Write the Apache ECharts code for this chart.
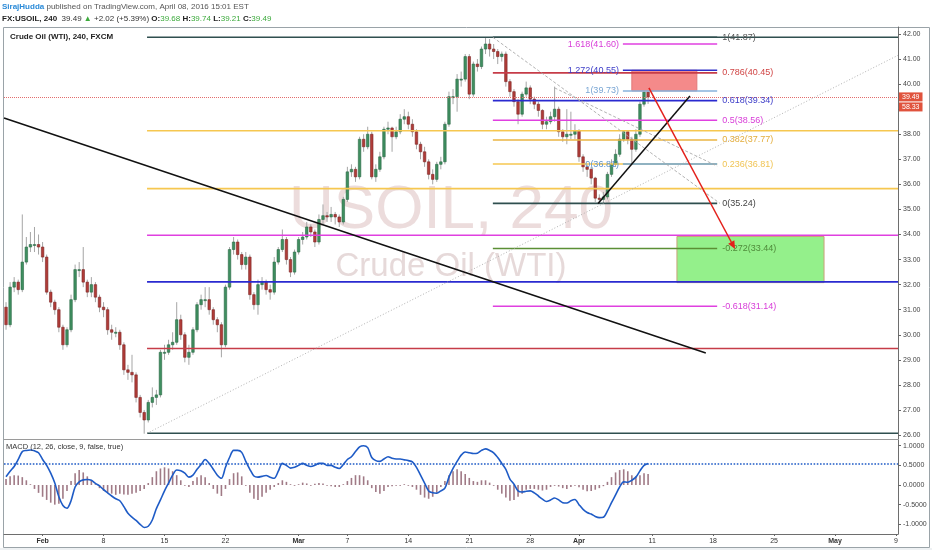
<!DOCTYPE html>
<html><head><meta charset="utf-8">
<script src="https://cdn.jsdelivr.net/npm/echarts@6/dist/echarts.min.js"></script>
<style>html,body{margin:0;padding:0;background:#fff}#c{width:932px;height:550px}</style>
</head><body><div id="c"></div>
<script>
// ---------- data ----------
const barCount = 220; // 8h slots from Jan 27 to May 6 (incl. future)
const tickIndex = [9,24,39,54,72,84,99,114,129,141,159,174,189,204,219];
const tickText = ['Feb','8','15','22','Mar','7','14','21','28','Apr','11','18','25','May','9'];
const priceTicks = [26,27,28,29,30,31,32,33,34,35,36,37,38,39,40,41,42];
const macdTicks = [-1,-0.5,0,0.5,1];
// [open, close, low, high]
const ohlc = [
[31.1,30.4,30.2,31.3],[30.4,31.9,30.3,32.1],[31.9,32.1,31.7,32.3],[32.1,31.8,31.6,32.2],[31.8,32.9,31.7,34.8],
[32.9,33.5,32.8,33.9],[33.5,33.6,33.3,34.1],[33.6,33.6,33.3,34.3],[33.6,33.5,33.2,34.0],[33.5,33.1,32.9,33.7],
[33.1,31.7,31.6,33.2],[31.7,31.3,31.1,31.8],[31.3,31.0,30.8,31.4],[31.0,30.3,30.1,31.1],[30.3,29.6,29.4,30.4],
[29.6,30.2,29.5,30.3],[30.2,31.4,30.1,31.6],[31.4,32.6,31.3,32.8],[32.6,32.6,32.3,32.9],[32.6,32.1,31.9,33.5],
[32.1,31.7,31.5,32.2],[31.7,32.0,31.5,32.3],[32.0,31.5,31.3,32.1],[31.5,31.1,30.9,31.6],[31.1,31.0,30.7,31.3],
[31.0,30.2,30.0,31.1],[30.2,30.1,29.8,30.4],[30.1,30.1,29.9,30.3],[30.1,29.6,29.4,30.2],[29.6,28.6,28.4,29.7],
[28.6,28.5,28.2,28.8],[28.5,28.4,28.1,29.2],[28.4,27.5,27.3,28.5],[27.5,26.9,26.7,27.6],[26.9,26.6,26.05,27.0],
[26.6,27.3,26.5,27.4],[27.3,27.5,27.1,27.9],[27.5,27.6,27.2,27.8],[27.6,29.3,27.5,29.4],[29.3,29.3,29.0,29.6],
[29.3,29.6,29.2,29.8],[29.6,29.7,29.4,30.1],[29.7,30.6,29.6,31.3],[30.6,30.0,29.8,30.8],[30.0,29.1,28.9,30.1],
[29.1,29.3,28.8,29.6],[29.3,30.2,29.2,30.3],[30.2,31.2,30.1,31.3],[31.2,31.4,31.0,31.6],[31.4,31.4,31.1,31.9],
[31.4,31.0,30.8,31.9],[31.0,30.6,30.4,31.1],[30.6,30.4,30.1,30.7],[30.4,29.6,29.1,30.5],[29.6,31.9,29.5,32.0],
[31.9,33.4,31.8,33.5],[33.4,33.7,33.2,33.9],[33.7,33.2,33.0,33.8],[33.2,32.8,32.6,33.3],[32.8,33.1,32.6,33.3],
[33.1,31.6,31.4,33.2],[31.6,31.2,31.0,31.7],[31.2,32.0,30.8,32.2],[32.0,32.1,31.8,32.3],[32.1,31.8,31.6,32.2],
[31.8,31.7,31.4,32.0],[31.7,32.9,31.6,33.1],[32.9,33.4,32.8,33.5],[33.4,33.8,33.3,34.2],[33.8,33.0,32.8,33.9],
[33.0,32.5,32.3,33.1],[32.5,33.3,32.4,33.4],[33.3,33.8,33.2,33.9],[33.8,33.9,33.6,34.1],[33.9,34.3,33.8,34.5],
[34.3,34.1,33.9,34.4],[34.1,33.7,33.5,34.2],[33.7,34.6,33.6,34.8],[34.6,34.75,34.4,35.2],[34.75,34.7,34.5,34.9],
[34.7,34.8,34.5,35.1],[34.8,34.7,34.4,34.9],[34.7,34.5,34.3,34.8],[34.5,35.4,34.4,35.5],[35.4,36.5,35.3,36.7],
[36.5,36.6,36.3,36.8],[36.6,36.3,36.1,36.7],[36.3,37.8,36.2,37.9],[37.8,37.5,37.3,38.0],[37.5,38.0,37.4,38.3],
[38.0,36.3,36.2,38.1],[36.3,36.6,36.1,36.8],[36.6,37.1,36.5,37.3],[37.1,38.2,37.0,38.3],[38.2,38.25,38.0,38.5],
[38.25,37.9,37.3,38.3],[37.9,38.1,37.8,38.3],[38.1,38.6,38.0,38.8],[38.6,38.7,38.4,39.0],[38.7,38.4,38.2,38.9],
[38.4,38.1,37.9,38.6],[38.1,37.6,37.4,38.2],[37.6,37.3,37.0,37.7],[37.3,36.9,36.7,37.5],[36.9,36.4,36.2,37.0],
[36.4,36.2,36.0,36.6],[36.2,36.8,36.1,36.9],[36.8,36.9,36.6,37.1],[36.9,38.4,36.8,38.5],[38.4,39.5,38.3,39.7],
[39.5,39.5,39.2,39.8],[39.5,40.2,38.9,40.4],[40.2,40.2,39.9,40.5],[40.2,41.1,40.1,41.2],[41.1,39.6,39.4,41.2],
[39.6,40.8,39.5,40.9],[40.8,40.7,40.5,41.0],[40.7,41.4,40.6,41.5],[41.4,41.6,41.2,41.87],[41.6,41.4,41.1,41.8],
[41.4,41.3,41.0,41.6],[41.3,41.1,40.8,41.4],[41.1,41.2,40.9,41.3],[41.2,40.1,39.9,41.3],[40.1,39.7,39.5,40.2],
[39.7,39.3,39.1,39.8],[39.3,38.8,38.4,39.4],[38.8,39.6,38.7,39.7],[39.6,39.85,39.5,40.1],[39.85,39.4,39.2,39.95],
[39.4,39.2,39.0,39.5],[39.2,38.95,38.7,39.3],[38.95,38.4,38.2,39.0],[38.4,38.5,38.2,38.7],[38.5,38.7,38.4,38.9],
[38.7,39.0,38.5,39.9],[39.0,38.1,37.9,39.1],[38.1,37.9,37.7,38.2],[37.9,38.0,37.6,39.0],[38.0,38.0,37.8,38.9],
[38.0,38.15,37.8,38.4],[38.15,37.1,36.9,38.2],[37.1,36.7,36.5,37.2],[36.7,36.6,36.3,36.8],[36.6,36.25,36.0,36.7],
[36.25,35.45,35.3,36.3],[35.45,35.4,35.25,35.6],[35.4,35.5,35.24,35.7],[35.5,36.4,35.4,36.5],[36.4,36.8,36.3,37.0],
[36.8,37.2,36.7,37.4],[37.2,37.8,37.1,38.0],[37.8,38.1,37.7,38.16],[38.1,37.8,37.6,38.1],[37.8,37.4,36.81,37.9],
[37.4,38.0,37.3,38.2],[38.0,39.2,37.9,39.3],[39.2,39.68,39.1,39.73],[39.68,39.49,39.21,39.74]
];
const macdLine = [
0.21,0.35,0.47,0.65,0.85,0.88,0.89,0.87,0.82,0.65,
0.5,0.3,0.05,-0.3,-0.52,-0.59,-0.4,-0.05,0.08,0.13,
0.14,0.12,0.04,-0.02,-0.12,-0.2,-0.28,-0.35,-0.4,-0.55,
-0.72,-0.82,-0.9,-1.0,-1.08,-1.05,-0.89,-0.6,-0.38,-0.15,
0.05,0.25,0.38,0.36,0.3,0.2,0.25,0.4,0.52,0.65,
0.55,0.4,0.25,0.17,0.45,0.7,0.88,0.88,0.83,0.6,
0.4,0.23,0.2,0.22,0.24,0.2,0.17,0.35,0.55,0.5,
0.43,0.45,0.5,0.55,0.5,0.47,0.5,0.55,0.55,0.5,
0.5,0.45,0.42,0.52,0.65,0.72,0.85,0.97,1.0,0.95,
0.7,0.62,0.6,0.66,0.72,0.68,0.66,0.66,0.64,0.62,
0.59,0.45,0.25,0.05,-0.15,-0.2,-0.21,-0.15,-0.08,0.2,
0.42,0.6,0.76,0.84,0.82,0.8,0.81,0.88,0.92,0.88,
0.82,0.7,0.55,0.4,0.15,0.02,-0.15,-0.18,-0.16,-0.15,
-0.2,-0.28,-0.36,-0.42,-0.38,-0.33,-0.38,-0.45,-0.46,-0.4,
-0.37,-0.5,-0.62,-0.7,-0.74,-0.8,-0.83,-0.82,-0.66,-0.45,
-0.25,-0.05,0.08,0.07,0.12,0.2,0.36,0.5,0.55];
const macdHist = [
0.15,0.22,0.25,0.24,0.2,0.12,0.02,-0.1,-0.2,-0.3,
-0.38,-0.45,-0.5,-0.48,-0.35,-0.15,0.1,0.3,0.38,0.32,
0.22,0.12,0.02,-0.08,-0.15,-0.2,-0.22,-0.25,-0.22,-0.24,
-0.25,-0.22,-0.2,-0.15,-0.1,0.05,0.2,0.35,0.42,0.45,
0.42,0.35,0.25,0.12,-0.02,-0.05,0.1,0.2,0.25,0.2,
0.05,-0.1,-0.22,-0.28,-0.1,0.15,0.3,0.32,0.22,0.0,
-0.2,-0.35,-0.38,-0.3,-0.2,-0.12,-0.05,0.05,0.12,0.08,
0.02,0.0,0.02,0.06,0.04,-0.02,0.03,0.05,0.04,0.0,
-0.03,-0.05,-0.05,0.02,0.1,0.18,0.25,0.25,0.22,0.12,
-0.08,-0.18,-0.22,-0.15,-0.05,-0.03,-0.02,0.0,0.02,0.0,
-0.05,-0.12,-0.25,-0.32,-0.35,-0.3,-0.2,-0.05,0.1,0.25,
0.35,0.4,0.35,0.28,0.18,0.1,0.08,0.12,0.12,0.06,
-0.02,-0.12,-0.22,-0.32,-0.4,-0.38,-0.3,-0.22,-0.12,-0.1,
-0.1,-0.12,-0.14,-0.12,-0.05,0.0,-0.04,-0.08,-0.1,-0.05,
0.0,-0.06,-0.12,-0.16,-0.15,-0.12,-0.08,-0.03,0.08,0.2,
0.32,0.38,0.4,0.35,0.25,0.22,0.25,0.3,0.28];
const lastPrice = 39.49;
const tagPrice = 39.09, tagText = '58.33';
const macdLast = 0.55;
// drawings, in (bar index, price)
const fibASpan = [34.7, 219.5];
const fibAPrices = [41.87, 38.14, 35.83, 33.97, 32.11, 29.45, 26.07];
const fibBSpan = [119.8, 175];
const fibBRatios = [1, 0.786, 0.618, 0.5, 0.382, 0.236, 0, -0.272, -0.618];
const fibBPrices = [41.87, 40.45, 39.34, 38.56, 37.77, 36.81, 35.24, 33.44, 31.14];
const fibCSpan = [151.8, 175];
const fibCRatios = [1.618, 1.272, 1, 0];
const fibCPrices = [41.60, 40.55, 39.73, 36.81];
const redBox = [154.0, 40.55, 170.0, 39.73];
const greenBox = [165.1, 33.92, 201.3, 32.08];
const blackLines = [[-0.5, 38.65, 172.2, 29.27], [145.7, 35.24, 168.3, 39.53]];
const greyLines = [[34.7, 26.07, 219.5, 41.15], [119.8, 41.87, 175.7, 35.24], [135, 39.85, 175, 36.73]];
const redArrow = [158.2, 39.85, 179.4, 33.42];

// ---------- styles ----------
const FONT = 'Liberation Sans, Arial, sans-serif';
const C = {dark:'#2f4f4f', yel:'#f6c750', yel2:'#eab443', mag:'#e040e0', blue:'#2a2ad0', red:'#c63c48', green:'#5b8f35', lblue:'#86b2dc'};
const fibAColors = [C.dark, C.yel, C.yel, C.mag, C.blue, C.red, C.dark];
const fibBColors = [C.dark, C.red, C.blue, C.mag, C.yel2, C.yel, C.dark, C.green, C.mag];
const fibBText = ['#555', '#d04444', '#3c3cc8', '#d83cd8', '#e3ad3c', '#f0c454', '#444', '#4f8a3a', '#d83cd8'];
const fibCColors = [C.mag, '#3030c8', C.lblue, '#6ea6d8'];
const fibCText = ['#d83cd8', '#3c3cc8', '#7aa6d4', '#5f95cc'];

// ---------- build drawing shapes ----------
const shapes = [];
shapes.push({k:'rect', v:redBox, fill:'rgba(242,112,112,0.82)', stroke:'#e07a7a'});
shapes.push({k:'rect', v:greenBox, fill:'rgba(136,238,126,0.9)', stroke:'#c9a27a'});
fibAPrices.forEach((p,i)=>shapes.push({k:'line', v:[fibASpan[0],p,fibASpan[1],p], stroke:fibAColors[i], w:1.6}));
fibBPrices.forEach((p,i)=>{
  shapes.push({k:'line', v:[fibBSpan[0],p,fibBSpan[1],p], stroke:fibBColors[i], w:1.6});
  shapes.push({k:'text', v:[fibBSpan[1],p], text:String(fibBRatios[i])+'('+p.toFixed(2)+')', fill:fibBText[i], align:'left', dx:5});
});
fibCPrices.forEach((p,i)=>{
  shapes.push({k:'line', v:[fibCSpan[0],p,fibCSpan[1],p], stroke:fibCColors[i], w:1.5});
  shapes.push({k:'text', v:[fibCSpan[0],p], text:String(fibCRatios[i])+'('+p.toFixed(2)+')', fill:fibCText[i], align:'right', dx:-4});
});
greyLines.forEach((g,i)=>shapes.push({k:'line', v:g, stroke:'#a9a9a9', w:0.9, dash: i===0?[1,2]:[3,2]}));
blackLines.forEach(b=>shapes.push({k:'line', v:b, stroke:'#111', w:1.5}));
shapes.push({k:'arrow', v:redArrow, stroke:'#e3201b', w:1.5});

const chart = echarts.init(document.getElementById('c'), null, {renderer:'canvas'});

function renderCandle(params, api){
  const i = api.value(0), o = api.value(1), c = api.value(2), l = api.value(3), h = api.value(4);
  const po = api.coord([i,o]), pc = api.coord([i,c]), pl = api.coord([i,l]), ph = api.coord([i,h]);
  const w = api.size([1,0])[0]*0.62;
  const up = c >= o;
  return {type:'group', children:[
    {type:'line', shape:{x1:ph[0], y1:ph[1], x2:pl[0], y2:pl[1]}, style:{stroke:'#a5a5a5', lineWidth:1}},
    {type:'rect', shape:{x:po[0]-w/2, y:Math.min(po[1],pc[1]), width:w, height:Math.max(1,Math.abs(po[1]-pc[1]))},
     style:{fill: up?'#3f8f60':'#b03c38', stroke: up?'#2a6845':'#7c2626', lineWidth:0.6}}
  ]};
}
function renderShape(params, api){
  const s = shapes[params.dataIndex];
  if (s.k === 'line'){
    const a = api.coord([s.v[0],s.v[1]]), b = api.coord([s.v[2],s.v[3]]);
    return {type:'line', shape:{x1:a[0],y1:a[1],x2:b[0],y2:b[1]}, style:{stroke:s.stroke, lineWidth:s.w, lineDash:s.dash||null}};
  }
  if (s.k === 'rect'){
    const a = api.coord([s.v[0],s.v[1]]), b = api.coord([s.v[2],s.v[3]]);
    return {type:'rect', shape:{x:Math.min(a[0],b[0]), y:Math.min(a[1],b[1]), width:Math.abs(b[0]-a[0]), height:Math.abs(b[1]-a[1])},
      style:{fill:s.fill, stroke:s.stroke, lineWidth:1}};
  }
  if (s.k === 'text'){
    const a = api.coord([s.v[0],s.v[1]]);
    return {type:'text', x:a[0]+s.dx, y:a[1], style:{text:s.text, fill:s.fill, font:'9px '+FONT, align:s.align, verticalAlign:'middle'}};
  }
  if (s.k === 'arrow'){
    const a = api.coord([s.v[0],s.v[1]]), b = api.coord([s.v[2],s.v[3]]);
    const dx = b[0]-a[0], dy = b[1]-a[1], L = Math.sqrt(dx*dx+dy*dy), ux = dx/L, uy = dy/L;
    const hl = 8, hw = 3.5;
    const bx = b[0]-ux*hl, by = b[1]-uy*hl;
    return {type:'group', children:[
      {type:'line', shape:{x1:a[0],y1:a[1],x2:bx,y2:by}, style:{stroke:s.stroke, lineWidth:s.w}},
      {type:'polygon', shape:{points:[[b[0],b[1]],[bx-uy*hw,by+ux*hw],[bx+uy*hw,by-ux*hw]]}, style:{fill:s.stroke}}
    ]};
  }
}
function renderHist(params, api){
  const i = api.value(0), v = api.value(1);
  const a = api.coord([i,0]), b = api.coord([i,v]);
  return {type:'rect', shape:{x:a[0]-0.8, y:Math.min(a[1],b[1]), width:1.6, height:Math.max(0.8,Math.abs(b[1]-a[1]))}, style:{fill:'#a07a86'}};
}

const xCommon = {type:'value', min:-0.5, max:barCount-0.5, splitLine:{show:false}};
const option = {
  animation:false,
  backgroundColor:'#ffffff',
  grid:[
    {left:4, right:34, top:27, height:412},
    {left:4, right:34, top:440, height:94}
  ],
  xAxis:[
    Object.assign({gridIndex:0, axisLine:{show:true, onZero:false, lineStyle:{color:'#9a9a9a', width:1}}, axisTick:{show:false}, axisLabel:{show:false}}, xCommon),
    Object.assign({gridIndex:1, axisLine:{show:true, onZero:false, lineStyle:{color:'#6e6e6e', width:1}},
      axisTick:{show:true, customValues:tickIndex, length:2, lineStyle:{color:'#666'}},
      axisLabel:{show:true, customValues:tickIndex, fontSize:7, fontFamily:FONT, color:'#333', margin:4,
        formatter:(v)=>{ const k = tickIndex.indexOf(Math.round(v)); const t = k>=0 ? tickText[k] : ''; return /^[A-Z]/.test(t) ? '{b|'+t+'}' : t; },
        rich:{b:{fontWeight:'bold', fontSize:7, fontFamily:FONT, color:'#333'}}}}, xCommon)
  ],
  yAxis:[
    {gridIndex:0, type:'value', position:'right', min:25.8404, max:42.2793, splitLine:{show:false},
     axisLine:{show:true, onZero:false, lineStyle:{color:'#6e6e6e'}},
     axisTick:{show:true, customValues:priceTicks, length:3, lineStyle:{color:'#666'}},
     axisLabel:{customValues:priceTicks, formatter:(v)=>v.toFixed(2), fontSize:7, fontFamily:FONT, color:'#444', margin:5}},
    {gridIndex:1, type:'value', position:'right', min:-1.247, max:1.145, splitLine:{show:false},
     axisLine:{show:true, onZero:false, lineStyle:{color:'#6e6e6e'}},
     axisTick:{show:true, customValues:macdTicks, length:3, lineStyle:{color:'#666'}},
     axisLabel:{customValues:macdTicks, formatter:(v)=>v.toFixed(4), fontSize:7, fontFamily:FONT, color:'#444', margin:5}}
  ],
  graphic:[
    {type:'rect', z:-20, silent:true, shape:{x:3.5, y:27.5, width:926, height:520}, style:{fill:'none', stroke:'#9aa3a8', lineWidth:1}},
    {type:'rect', z:-20, silent:true, shape:{x:0, y:548, width:932, height:2}, style:{fill:'#eef1f3'}},
    {type:'text', z:-10, silent:true, x:451, y:211, style:{text:'USOIL, 240', font:'62px '+FONT, fill:'#ecdcdc', align:'center', verticalAlign:'middle'}},
    {type:'text', z:-10, silent:true, x:451, y:267, style:{text:'Crude Oil (WTI)', font:'33px '+FONT, fill:'#e6d9d9', align:'center', verticalAlign:'middle'}},
    {type:'text', z:10, silent:true, x:2, y:7, style:{text:'{u|SirajHudda} published on TradingView.com, April 08, 2016 15:01 EST',
      fontSize:8, fontFamily:FONT, fill:'#555', verticalAlign:'middle',
      rich:{u:{fill:'#2a8ad8', fontWeight:'bold', fontSize:8, fontFamily:FONT}}}},
    {type:'text', z:10, silent:true, x:2, y:19, style:{text:'{b|FX:USOIL, 240}  39.49 {g|\u25B2} +2.02 (+5.39%) {b|O:}{g|39.68} {b|H:}{g|39.74} {b|L:}{g|39.21} {b|C:}{g|39.49}',
      fontSize:8, fontFamily:FONT, fill:'#333', verticalAlign:'middle',
      rich:{b:{fill:'#222', fontWeight:'bold', fontSize:8, fontFamily:FONT}, g:{fill:'#3caa3c', fontSize:8, fontFamily:FONT}}}},
    {type:'text', z:10, silent:true, x:10, y:37, style:{text:'Crude Oil (WTI), 240, FXCM', font:'bold 8px '+FONT, fill:'#222', verticalAlign:'middle'}},
    {type:'text', z:10, silent:true, x:6, y:447, style:{text:'MACD (12, 26, close, 9, false, true)', font:'7.5px '+FONT, fill:'#333', verticalAlign:'middle'}}
  ],
  series:[
    {type:'custom', name:'candles', xAxisIndex:0, yAxisIndex:0, z:2, clip:true, renderItem:renderCandle,
     encode:{x:0, y:[1,2,3,4]}, data: ohlc.map((r,i)=>[i, r[0], r[1], r[2], r[3]])},
    {type:'custom', name:'drawings', xAxisIndex:0, yAxisIndex:0, z:5, clip:false, renderItem:renderShape,
     encode:{x:0, y:1}, data: shapes.map((s,i)=>[i, 30])},
    {type:'line', name:'last', xAxisIndex:0, yAxisIndex:0, z:4, showSymbol:false, data:[[ohlc.length-1, lastPrice]],
     markLine:{silent:true, symbol:'none', animation:false,
       data:[
        {yAxis:lastPrice, lineStyle:{color:'#e36d6d', type:'dotted', width:1},
         label:{show:true, position:'end', distance:1, formatter:lastPrice.toFixed(2), color:'#fff', backgroundColor:'#e0533d', padding:[1,3,1,3], fontSize:7, fontFamily:FONT}},
        {yAxis:tagPrice, lineStyle:{color:'rgba(0,0,0,0)', width:0.1},
         label:{show:true, position:'end', distance:1, formatter:tagText, color:'#fff', backgroundColor:'#e0533d', padding:[1,3,1,3], fontSize:7, fontFamily:FONT}}
       ]}},
    {type:'custom', name:'hist', xAxisIndex:1, yAxisIndex:1, z:2, renderItem:renderHist,
     encode:{x:0, y:1}, data: macdHist.map((v,i)=>[i, v])},
    {type:'line', name:'macd', xAxisIndex:1, yAxisIndex:1, z:3, showSymbol:false, smooth:0.3,
     lineStyle:{color:'#1e5bc6', width:1.6}, data: macdLine.map((v,i)=>[i, v]),
     markLine:{silent:true, symbol:'none', label:{show:false}, data:[{yAxis:macdLast}], lineStyle:{color:'#1e5bc6', type:'dotted', width:1.6}}}
  ]
};
chart.setOption(option);
</script>
</body></html>
